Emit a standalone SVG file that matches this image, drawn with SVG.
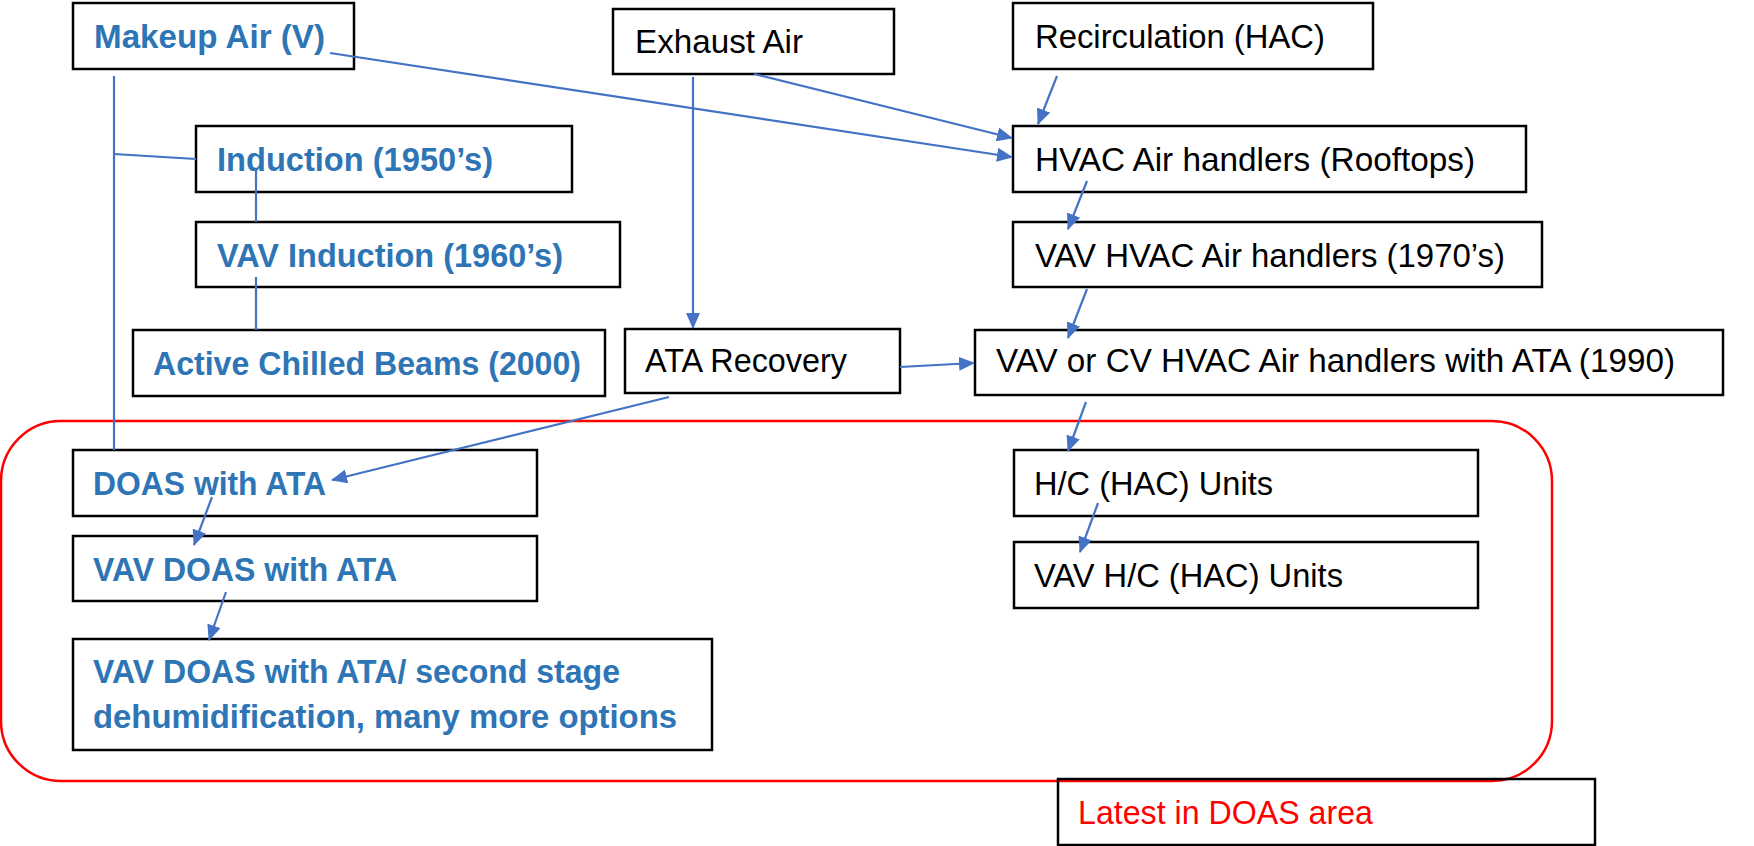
<svg xmlns="http://www.w3.org/2000/svg" width="1754" height="846" viewBox="0 0 1754 846">
<defs>
<style>
.box{fill:#fff;stroke:#000;stroke-width:2.5}
.t{font-family:"Liberation Sans",Arial,sans-serif;font-size:33px}
.b{fill:#2E75B6;font-weight:bold}
.k{fill:#000}
.r{fill:#FF0000}
.c{stroke:#4472C4;stroke-width:2.2;fill:none}
</style>
<marker id="ah" markerUnits="userSpaceOnUse" markerWidth="16" markerHeight="14" refX="15" refY="7" orient="auto">
<path d="M0,0 L16,7 L0,14 Z" fill="#4472C4"/>
</marker>
</defs>
<rect width="1754" height="846" fill="#fff"/>
<rect id="doas-area" x="1" y="421" width="1551" height="360" rx="60" ry="60" fill="none" stroke="#FF0000" stroke-width="2.5"/>

<g id="makeup"><rect class="box" x="73" y="3" width="281" height="66"/><text class="t b" x="94" y="48" textLength="231" lengthAdjust="spacingAndGlyphs">Makeup Air (V)</text></g>
<g id="induction"><rect class="box" x="196" y="126" width="376" height="66"/><text class="t b" x="217" y="171" textLength="276" lengthAdjust="spacingAndGlyphs">Induction (1950’s)</text></g>
<g id="vav-induction"><rect class="box" x="196" y="222" width="424" height="65"/><text class="t b" x="217" y="267" textLength="346" lengthAdjust="spacingAndGlyphs">VAV Induction (1960’s)</text></g>
<g id="acb"><rect class="box" x="133" y="330" width="472" height="66"/><text class="t b" x="153" y="375" textLength="428" lengthAdjust="spacingAndGlyphs">Active Chilled Beams (2000)</text></g>
<g id="exhaust"><rect class="box" x="613" y="9" width="281" height="65"/><text class="t k" x="635" y="53" textLength="168" lengthAdjust="spacingAndGlyphs">Exhaust Air</text></g>
<g id="ata"><rect class="box" x="625" y="329" width="275" height="64"/><text class="t k" x="645" y="372" textLength="202" lengthAdjust="spacingAndGlyphs">ATA Recovery</text></g>
<g id="recirc"><rect class="box" x="1013" y="3" width="360" height="66"/><text class="t k" x="1035" y="48" textLength="290" lengthAdjust="spacingAndGlyphs">Recirculation (HAC)</text></g>
<g id="hvac"><rect class="box" x="1013" y="126" width="513" height="66"/><text class="t k" x="1035" y="171" textLength="440" lengthAdjust="spacingAndGlyphs">HVAC Air handlers (Rooftops)</text></g>
<g id="vav-hvac"><rect class="box" x="1013" y="222" width="529" height="65"/><text class="t k" x="1035" y="267" textLength="470" lengthAdjust="spacingAndGlyphs">VAV HVAC Air handlers (1970’s)</text></g>
<g id="vav-cv"><rect class="box" x="975" y="330" width="748" height="65"/><text class="t k" x="996" y="372" textLength="679" lengthAdjust="spacingAndGlyphs">VAV or CV HVAC Air handlers with ATA (1990)</text></g>
<g id="doas"><rect class="box" x="73" y="450" width="464" height="66"/><text class="t b" x="93" y="495" textLength="233" lengthAdjust="spacingAndGlyphs">DOAS with ATA</text></g>
<g id="vav-doas"><rect class="box" x="73" y="536" width="464" height="65"/><text class="t b" x="93" y="581" textLength="304" lengthAdjust="spacingAndGlyphs">VAV DOAS with ATA</text></g>
<g id="vav-doas-2"><rect class="box" x="73" y="639" width="639" height="111"/><text class="t b" x="93" y="683" textLength="527" lengthAdjust="spacingAndGlyphs">VAV DOAS with ATA/ second stage</text><text class="t b" x="93" y="728" textLength="584" lengthAdjust="spacingAndGlyphs">dehumidification, many more options</text></g>
<g id="hc"><rect class="box" x="1014" y="450" width="464" height="66"/><text class="t k" x="1034" y="495" textLength="239" lengthAdjust="spacingAndGlyphs">H/C (HAC) Units</text></g>
<g id="vav-hc"><rect class="box" x="1014" y="542" width="464" height="66"/><text class="t k" x="1034" y="587" textLength="309" lengthAdjust="spacingAndGlyphs">VAV H/C (HAC) Units</text></g>
<g id="latest"><rect x="1058" y="779" width="537" height="66" fill="none" stroke="#000" stroke-width="2.5"/><text class="t r" x="1078" y="824" textLength="295" lengthAdjust="spacingAndGlyphs">Latest in DOAS area</text></g>

<g id="connectors">
<line class="c" x1="114" y1="76" x2="114" y2="450"/>
<line class="c" x1="114" y1="154" x2="196" y2="159"/>
<line class="c" x1="256" y1="170" x2="256" y2="222"/>
<line class="c" x1="256" y1="277" x2="256" y2="330"/>
<line class="c" x1="330" y1="53" x2="1012" y2="157" marker-end="url(#ah)"/>
<line class="c" x1="754" y1="74" x2="1012" y2="138" marker-end="url(#ah)"/>
<line class="c" x1="693" y1="77" x2="693" y2="328" marker-end="url(#ah)"/>
<line class="c" x1="1057" y1="76" x2="1038" y2="124" marker-end="url(#ah)"/>
<line class="c" x1="1087" y1="181" x2="1068" y2="229" marker-end="url(#ah)"/>
<line class="c" x1="1087" y1="289" x2="1068" y2="338" marker-end="url(#ah)"/>
<line class="c" x1="900" y1="367" x2="974" y2="363" marker-end="url(#ah)"/>
<line class="c" x1="669" y1="397" x2="332" y2="480" marker-end="url(#ah)"/>
<line class="c" x1="1086" y1="402" x2="1068" y2="451" marker-end="url(#ah)"/>
<line class="c" x1="1098" y1="503" x2="1080" y2="552" marker-end="url(#ah)"/>
<line class="c" x1="212" y1="497" x2="194" y2="545" marker-end="url(#ah)"/>
<line class="c" x1="226" y1="592" x2="209" y2="640" marker-end="url(#ah)"/>
</g>
</svg>
